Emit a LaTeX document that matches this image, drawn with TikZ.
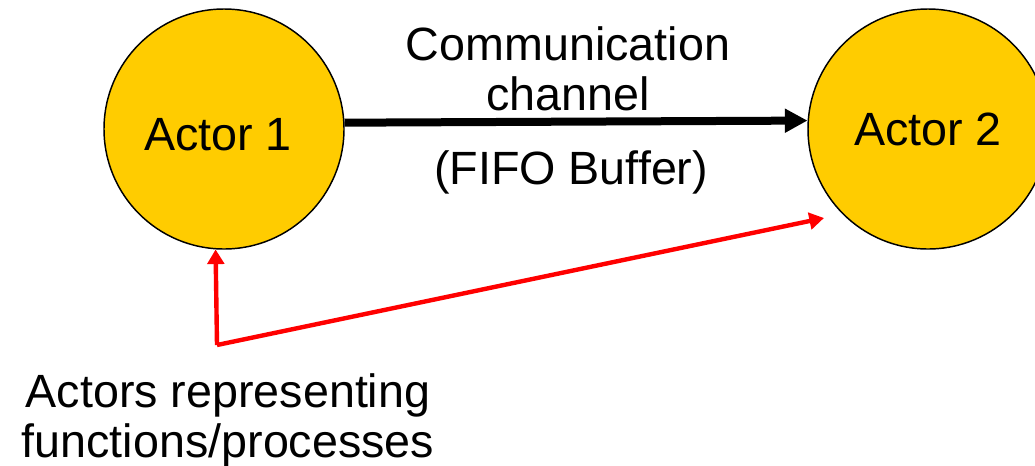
\documentclass[tikz,border=0pt]{standalone}
\usepackage{fontspec}
\setmainfont{Liberation Sans}
\usetikzlibrary{arrows.meta}
\definecolor{actorfill}{RGB}{255,204,0}
\definecolor{linkred}{RGB}{255,0,0}
\tikzset{
  actor/.style={circle, draw=black, line width=1.1pt, fill=actorfill,
    minimum size=180pt, inner sep=0pt, font=\fontsize{35}{37.5}\selectfont},
  lbl/.style={font=\fontsize{35}{37.5}\selectfont, inner sep=0pt, align=center},
  chan/.style={line width=6pt, -{Triangle[length=17pt,width=17pt]}},
  pointer/.style={draw=linkred, line width=3.3pt, -{Triangle[length=11pt,width=12.5pt]}, line join=miter}
}
\begin{document}
\begin{tikzpicture}[x=0.75pt,y=-0.75pt]
\clip (0,0) rectangle (1035,465);
\fill[white] (0,0) rectangle (1035,465);
\node[actor, label={[lbl,xshift=-4.5pt,yshift=-4.5pt]center:Actor 1}] (a1) at (224,129) {};
\node[actor] (a2) at (928,129) {Actor 2};
\draw[chan] (a1.3.8) -- (a2.176.2);
\node[lbl, anchor=base] (cc) at (568,110) {Communication\\channel};
\node[lbl, anchor=base] (fifo) at (571,184) {(FIFO Buffer)};
\node[lbl, anchor=base] (act) at (228,457) {Actors representing\\functions/processes};
\coordinate (corner) at (217,345);
\coordinate (t2) at (824,218);
\draw[pointer] (corner) -- (a1.266.7);
\draw[pointer] (corner) -- (t2);
\end{tikzpicture}
\end{document}
